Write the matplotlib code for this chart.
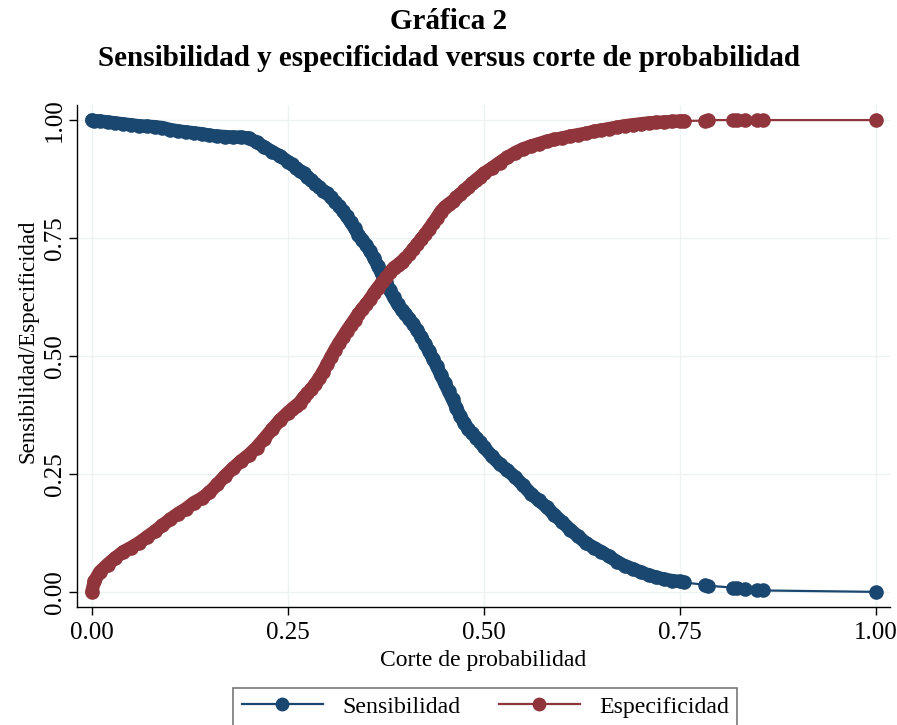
import matplotlib
matplotlib.use("Agg")
import matplotlib.pyplot as plt

# Probability cutoffs and the two rates
cutoff = [0.000, 0.003, 0.010, 0.020, 0.030, 0.040, 0.050, 0.060, 0.070, 0.080,
          0.090, 0.100, 0.110, 0.120, 0.130, 0.140, 0.150, 0.160, 0.170, 0.180,
          0.190, 0.200, 0.210, 0.220, 0.230, 0.240, 0.250, 0.255, 0.260, 0.265,
          0.270, 0.275, 0.280, 0.285, 0.290, 0.295, 0.300, 0.305, 0.310, 0.315,
          0.320, 0.325, 0.330, 0.335, 0.340, 0.345, 0.350, 0.355, 0.360, 0.365,
          0.370, 0.375, 0.380, 0.385, 0.390, 0.395, 0.400, 0.405, 0.410, 0.415,
          0.420, 0.425, 0.430, 0.435, 0.440, 0.445, 0.450, 0.455, 0.460, 0.465,
          0.470, 0.475, 0.480, 0.485, 0.490, 0.495, 0.500, 0.510, 0.520, 0.530,
          0.540, 0.550, 0.560, 0.570, 0.580, 0.590, 0.600, 0.610, 0.620, 0.630,
          0.640, 0.650, 0.660, 0.670, 0.680, 0.690, 0.700, 0.710, 0.720, 0.730,
          0.740, 0.750, 0.755, 0.782, 0.786, 0.818, 0.823, 0.833, 0.848, 0.856,
          1.000]

sensibilidad = [1.000, 0.999, 0.998, 0.996, 0.994, 0.992, 0.990, 0.988, 0.987, 0.986,
                0.984, 0.980, 0.977, 0.975, 0.973, 0.971, 0.968, 0.966, 0.965, 0.964,
                0.964, 0.962, 0.953, 0.943, 0.933, 0.924, 0.912, 0.906, 0.899, 0.893,
                0.887, 0.880, 0.872, 0.865, 0.858, 0.850, 0.845, 0.836, 0.827, 0.818,
                0.808, 0.796, 0.784, 0.771, 0.757, 0.745, 0.735, 0.722, 0.707, 0.690,
                0.673, 0.657, 0.640, 0.624, 0.610, 0.598, 0.590, 0.578, 0.567, 0.554,
                0.541, 0.526, 0.510, 0.494, 0.478, 0.460, 0.443, 0.425, 0.408, 0.390,
                0.372, 0.358, 0.345, 0.336, 0.327, 0.318, 0.307, 0.288, 0.271, 0.258,
                0.243, 0.226, 0.208, 0.194, 0.180, 0.163, 0.148, 0.132, 0.118, 0.104,
                0.094, 0.085, 0.075, 0.064, 0.055, 0.049, 0.042, 0.036, 0.031, 0.027,
                0.024, 0.022, 0.020, 0.015, 0.013, 0.009, 0.008, 0.006, 0.004, 0.003,
                0.000]

especificidad = [0.000, 0.022, 0.042, 0.058, 0.072, 0.085, 0.094, 0.104, 0.116, 0.128,
                 0.141, 0.154, 0.166, 0.176, 0.189, 0.198, 0.211, 0.228, 0.246, 0.262,
                 0.277, 0.290, 0.306, 0.325, 0.345, 0.364, 0.380, 0.387, 0.394, 0.401,
                 0.412, 0.421, 0.430, 0.441, 0.453, 0.467, 0.482, 0.498, 0.513, 0.527,
                 0.540, 0.553, 0.565, 0.577, 0.589, 0.600, 0.610, 0.621, 0.634, 0.645,
                 0.656, 0.667, 0.677, 0.687, 0.693, 0.700, 0.707, 0.716, 0.727, 0.737,
                 0.747, 0.758, 0.769, 0.781, 0.793, 0.806, 0.815, 0.822, 0.828, 0.836,
                 0.843, 0.851, 0.858, 0.866, 0.873, 0.880, 0.887, 0.898, 0.910, 0.921,
                 0.931, 0.939, 0.945, 0.950, 0.955, 0.959, 0.962, 0.966, 0.969, 0.972,
                 0.976, 0.979, 0.982, 0.985, 0.988, 0.990, 0.992, 0.994, 0.995, 0.996,
                 0.997, 0.998, 0.998, 0.999, 1.000, 1.000, 1.000, 1.000, 1.000, 1.000,
                 1.000]

# the dense part of the cutoffs (where the markers touch each other)
n_denso = 103

ticks = [0.0, 0.25, 0.5, 0.75, 1.0]
tick_labels = ["0.00", "0.25", "0.50", "0.75", "1.00"]

azul = "#1a476f"
rojo = "#90353b"

plt.rcParams['font.family'] = ['Liberation Serif', 'DejaVu Serif']

fig = plt.figure(figsize=(8.97, 7.25), dpi=100)
ax = fig.add_axes([0.0858, 0.1628, 0.9064, 0.6924])

ms = 10.5
for serie, color, nombre in [(sensibilidad, azul, 'Sensibilidad'),
                             (especificidad, rojo, 'Especificidad')]:
    # thick band under the dense markers
    ax.plot(cutoff[:n_denso], serie[:n_denso], color=color, lw=ms * 0.92,
            solid_capstyle='round', solid_joinstyle='round', zorder=2)
    ax.plot(cutoff, serie, color=color, lw=1.6, marker='o', ms=ms,
            markeredgewidth=0, label=nombre, zorder=3)

ax.set_xlim(-0.019, 1.018)
ax.set_ylim(-0.032, 1.032)
ax.set_xticks(ticks)
ax.set_xticklabels(tick_labels)
ax.set_yticks(ticks)
ax.set_yticklabels(tick_labels, rotation=90, va='center')
ax.tick_params(axis='both', labelsize=18, length=6, width=1, direction='out',
               color='black')
ax.tick_params(axis='x', pad=5)
ax.tick_params(axis='y', pad=2)
ax.grid(True, color='#eef2f3', lw=1)
ax.set_axisbelow(True)
for s in ['top', 'right']:
    ax.spines[s].set_visible(False)
for s in ['left', 'bottom']:
    ax.spines[s].set_color('black')
    ax.spines[s].set_linewidth(1)

ax.set_xlabel('Corte de probabilidad', fontsize=17, labelpad=4)
ax.set_ylabel('Sensibilidad/Especificidad', fontsize=16.5)
ax.yaxis.set_label_coords(-0.047, 0.53)

fig.text(0.5, 0.970, 'Gráfica 2', ha='center', va='center',
         fontsize=21, fontweight='bold')
fig.text(0.5, 0.919, 'Sensibilidad y especificidad versus corte de probabilidad',
         ha='center', va='center', fontsize=21, fontweight='bold')

leg = fig.legend(loc='lower center', bbox_to_anchor=(0.541, -0.018), ncol=2,
                 fontsize=17.2, frameon=True, fancybox=False, handlelength=3.4,
                 columnspacing=1.6, handletextpad=0.8, borderpad=0.35,
                 markerscale=0.95)
leg.get_frame().set_edgecolor('#555555')
leg.get_frame().set_linewidth(1.2)

fig.savefig('out.png', dpi=100)
